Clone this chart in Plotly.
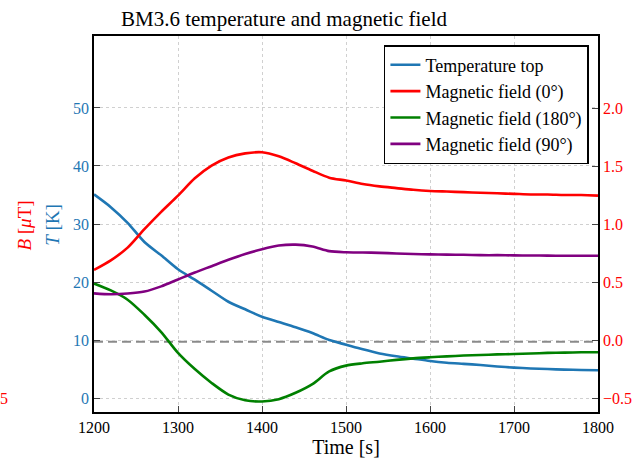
import plotly.graph_objects as go

# ---- data ----
time_s = [1200, 1220, 1240, 1260, 1280, 1300, 1320, 1340, 1360, 1380, 1400,
          1420, 1440, 1460, 1480, 1500, 1520, 1540, 1560, 1580, 1600,
          1620, 1640, 1660, 1680, 1700, 1720, 1740, 1760, 1780, 1800]

temperature_top = [35.1, 32.9, 30.2, 26.9, 24.6, 22.2, 20.4, 18.5, 16.6, 15.3, 14.0,
                   13.1, 12.2, 11.2, 10.0, 9.2, 8.4, 7.7, 7.2, 6.8, 6.4,
                   6.1, 5.9, 5.7, 5.45, 5.25, 5.1, 5.0, 4.9, 4.85, 4.8]

field_0 = [0.607, 0.69, 0.80, 0.96, 1.11, 1.25, 1.40, 1.51, 1.58, 1.615, 1.625,
           1.59, 1.53, 1.465, 1.405, 1.38, 1.35, 1.33, 1.315, 1.30, 1.29,
           1.285, 1.28, 1.275, 1.27, 1.265, 1.26, 1.26, 1.255, 1.255, 1.25]

field_180 = [0.49, 0.43, 0.35, 0.22, 0.07, -0.11, -0.25, -0.37, -0.47, -0.52, -0.53,
             -0.51, -0.455, -0.38, -0.27, -0.22, -0.20, -0.186, -0.17, -0.157, -0.148,
             -0.14, -0.133, -0.128, -0.123, -0.12, -0.115, -0.11, -0.108, -0.105, -0.105]

field_90 = [0.405, 0.397, 0.403, 0.42, 0.465, 0.525, 0.585, 0.64, 0.695, 0.745, 0.786,
            0.818, 0.826, 0.81, 0.77, 0.76, 0.758, 0.755, 0.75, 0.745, 0.742,
            0.74, 0.738, 0.735, 0.735, 0.733, 0.732, 0.731, 0.73, 0.73, 0.73]

reference_T = 9.7  # dashed reference level (K)

x_ticks = [1200, 1300, 1400, 1500, 1600, 1700, 1800]
T_ticks = [0, 10, 20, 30, 40, 50]
B_ticks = [-0.5, 0.0, 0.5, 1.0, 1.5, 2.0]

BLUE = "#1f77b4"
RED = "#ff0000"
GREEN = "#008000"
PURPLE = "#800080"
FONT = "Liberation Serif, Times New Roman, Times, serif"

fig = go.Figure()
for name, yv, col, ax in [("Temperature top", temperature_top, BLUE, "y"),
                          ("Magnetic field (0°)", field_0, RED, "y2"),
                          ("Magnetic field (180°)", field_180, GREEN, "y2"),
                          ("Magnetic field (90°)", field_90, PURPLE, "y2")]:
    fig.add_trace(go.Scatter(x=time_s, y=yv, name=name, mode="lines",
                             line=dict(color=col, width=2.6, shape="spline", smoothing=0.8),
                             yaxis=ax))

fig.add_shape(type="line", xref="paper", x0=0, x1=1, yref="y", y0=reference_T, y1=reference_T,
              line=dict(color="#8a8a8a", width=2, dash="9px,5px"), layer="below")

fig.update_layout(
    width=636, height=461,
    margin=dict(l=94, r=38, t=36, b=49, autoexpand=False),
    paper_bgcolor="white", plot_bgcolor="white",
    font=dict(family=FONT, size=16, color="black"),
    title=dict(text="BM3.6 temperature and magnetic field", xref="container", x=284/636,
               xanchor="center", yref="container", y=1 - 19/461, yanchor="middle",
               font=dict(family=FONT, size=21, color="black")),
    xaxis=dict(range=[1200, 1800], tickvals=x_ticks, ticks="inside", ticklen=6,
               showline=True, mirror=True, linecolor="black", linewidth=1.5,
               showgrid=True, gridcolor="#d0d0d0", griddash="dot", gridwidth=1,
               zeroline=False, automargin=False,
               tickfont=dict(family=FONT, size=16, color="black"),
               title=dict(text="Time [s]", font=dict(family=FONT, size=20), standoff=4)),
    yaxis=dict(range=[-2.4, 62.4], tickvals=T_ticks, ticks="inside", ticklen=6,
               showline=True, linecolor="black", linewidth=1.5,
               showgrid=True, gridcolor="#d0d0d0", griddash="dot", gridwidth=1,
               zeroline=False, automargin=False,
               tickfont=dict(family=FONT, size=16, color=BLUE)),
    yaxis2=dict(range=[-0.621, 2.63], tickvals=B_ticks, tickformat=".1f", ticks="inside",
                ticklen=6, overlaying="y", side="right",
                showline=True, linecolor="black", linewidth=1.5, automargin=False,
                showgrid=False, zeroline=False, tickfont=dict(family=FONT, size=16, color=RED)),
    legend=dict(x=0.982, xanchor="right", y=0.976, yanchor="top",
                bgcolor="white", bordercolor="black", borderwidth=1.5,
                font=dict(family=FONT, size=18, color="black")),
    showlegend=True,
)

fig.add_annotation(text="<i>B</i> [<i>μ</i>T]", xref="paper", yref="paper", x=-0.138, y=0.497,
                   xanchor="center", yanchor="middle",
                   textangle=-90, showarrow=False, font=dict(family=FONT, size=19, color=RED))
fig.add_annotation(text="<i>T</i> [K]", xref="paper", yref="paper", x=-0.084, y=0.497,
                   xanchor="center", yanchor="middle",
                   textangle=-90, showarrow=False, font=dict(family=FONT, size=19, color=BLUE))
fig.add_annotation(text="5", xref="paper", yref="paper", x=-0.178, y=0.037,
                   xanchor="center", yanchor="middle",
                   showarrow=False, font=dict(family=FONT, size=16, color=RED))

fig.write_html("out.html")
